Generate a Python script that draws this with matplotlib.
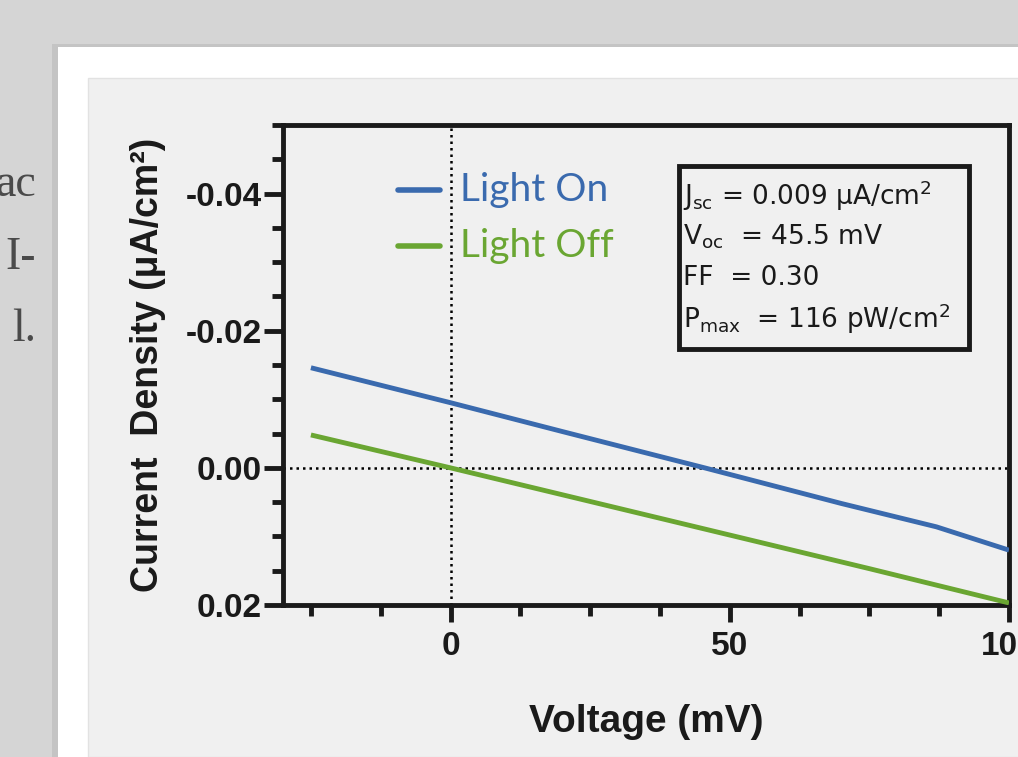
import matplotlib
matplotlib.use("Agg")
import matplotlib.pyplot as plt
from matplotlib.patches import Rectangle
from matplotlib.ticker import MultipleLocator, FixedLocator, FuncFormatter

# ---- data ----
voltage_on = [-25, 0, 20, 45.5, 70, 87, 100]
current_on = [-0.0146, -0.0095, -0.0053, 0.0, 0.0052, 0.0086, 0.0120]
voltage_off = [-25, 0, 25, 50, 75, 100]
current_off = [-0.0048, 0.0, 0.0049, 0.0098, 0.0147, 0.0197]
series_names = ["Light On", "Light Off"]
series_colors = ["#3a6aae", "#6aa632"]
x_major = [0, 50, 100]
y_major = [-0.04, -0.02, 0.00, 0.02]
box_lines = [r"J$_{\rm sc}$ = 0.009 μA/cm$^{2}$",
             r"V$_{\rm oc}$  = 45.5 mV",
             r"FF  = 0.30",
             r"P$_{\rm max}$  = 116 pW/cm$^{2}$"]

W, H = 1018, 757
fig = plt.figure(figsize=(W / 100, H / 100), dpi=100)
fig.patch.set_facecolor("#d5d5d5")

def fx(px):
    return px / W

def fy(py):
    return 1 - py / H

# slide card and panel
fig.patches.append(Rectangle((fx(52), 0), 1, fy(44), transform=fig.transFigure,
                             facecolor="#c4c4c4", edgecolor="none", zorder=-10))
fig.patches.append(Rectangle((fx(58), 0), 1, fy(47), transform=fig.transFigure,
                             facecolor="#ffffff", edgecolor="none", zorder=-9))
fig.patches.append(Rectangle((fx(88), 0), 1, fy(78), transform=fig.transFigure,
                             facecolor="#f0f0f0", edgecolor="#e2e2e2", lw=1, zorder=-8))

# partial slide text on the left
for txt, py in [("ac", 185), ("I-", 258), ("l.", 330)]:
    fig.text(fx(36), fy(py), txt, ha="right", va="center", family="Liberation Serif",
             fontsize=33, color="#4a4a4a")

ax = fig.add_axes([fx(283), fy(605), fx(1009) - fx(283), fy(125) - fy(605)])
ax.set_facecolor("none")

ax.plot(voltage_on, current_on, color=series_colors[0], lw=3.5, solid_capstyle="butt", zorder=3)
ax.plot(voltage_off, current_off, color=series_colors[1], lw=3.5, solid_capstyle="butt", zorder=3)

ax.axhline(0, color="black", lw=1.8, ls=(0, (1, 1.6)), zorder=2)
ax.axvline(0, color="black", lw=1.8, ls=(0, (1, 1.6)), zorder=2)

ax.set_xlim(-30, 100)
ax.set_ylim(0.02, -0.05)

for s in ax.spines.values():
    s.set_linewidth(3.5)
    s.set_color("#1a1a1a")

ax.xaxis.set_major_locator(FixedLocator(x_major))
ax.xaxis.set_minor_locator(MultipleLocator(12.5))
ax.yaxis.set_major_locator(FixedLocator(y_major))
ax.yaxis.set_minor_locator(MultipleLocator(0.005))
ax.yaxis.set_major_formatter(FuncFormatter(lambda v, p: f"{v:.2f}".replace("-0.00", "0.00")))
ax.tick_params(axis="both", which="both", direction="out", color="#1a1a1a", width=3.5,
               top=False, right=False)
ax.tick_params(axis="x", which="major", length=12, pad=7)
ax.tick_params(axis="x", which="minor", length=8)
ax.tick_params(axis="y", which="major", length=14, pad=1)
ax.tick_params(axis="y", which="minor", length=8)

fam = ["Liberation Sans Narrow", "Liberation Sans"]
for lab in ax.get_xticklabels() + ax.get_yticklabels():
    lab.set_fontfamily(fam)
    lab.set_fontweight("bold")
    lab.set_fontsize(24)
    lab.set_color("#1a1a1a")

ax.set_xlabel("Voltage (mV)", family=fam, weight="bold", fontsize=28, color="#1a1a1a",
              labelpad=30)
ax.set_ylabel("Current  Density (μA/cm²)", family=fam, weight="bold", fontsize=27,
              color="#1a1a1a", labelpad=14)

# legend drawn manually
for i, (name, col) in enumerate(zip(series_names, series_colors)):
    py = 190 + i * 56
    fig.add_artist(plt.Line2D([fx(398), fx(440)], [fy(py), fy(py)], transform=fig.transFigure,
                              color=col, lw=4, solid_capstyle="round"))
    fig.text(fx(460), fy(py), name, ha="left", va="center", family="Lato",
             fontsize=28, color=col)

# parameter box
fig.patches.append(Rectangle((fx(679), fy(349)), fx(969) - fx(679), fy(166) - fy(349),
                             transform=fig.transFigure, facecolor="none",
                             edgecolor="#1a1a1a", lw=3.5, zorder=5))
for i, t in enumerate(box_lines):
    fig.text(fx(683), fy(196 + i * 41), t, ha="left", va="center", family="DejaVu Sans",
             fontsize=19, color="#1a1a1a")

fig.savefig("out.png", dpi=100, facecolor=fig.get_facecolor())
